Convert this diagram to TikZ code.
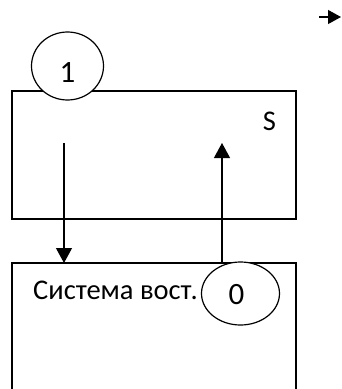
\documentclass[tikz,border=0pt]{standalone}
\usepackage{fontspec}
\setmainfont{Carlito}
\usepackage{tikz}
\usetikzlibrary{shapes.geometric,arrows.meta}

\begin{document}
\begin{tikzpicture}[x=1pt,y=-1pt,
    box/.style={draw,line width=1.6pt,inner sep=0pt,outer sep=0pt,minimum width=284pt},
    state/.style={draw,fill=white,ellipse,line width=1.2pt,inner sep=0pt,outer sep=0pt},
    flow/.style={line width=1.2pt,-{Triangle[length=15pt,width=16pt]}},
    txt/.style={inner sep=0pt,font=\fontsize{28.5}{34}\selectfont},
    digit/.style={inner sep=0pt,font=\fontsize{31}{36}\selectfont}]
  \useasboundingbox (0,0) rectangle (341,389);
  \clip (0,0) rectangle (341,389);
  % two blocks, the lower one runs off the page
  \node[box,minimum height=128pt] (sbox) at (154,155) {};
  \node[box,minimum height=160pt] (recbox) at (154,343) {};
  % connectors between the blocks
  \coordinate (down) at (64,143);
  \coordinate (up) at (222,143);
  \draw[flow] (down) -- (down |- recbox.north);
  \draw[flow] (up |- recbox.north) -- (up);
  % short arrow top right
  \coordinate (ftail) at (319,17);
  \coordinate (fhead) at (341,17);
  \draw[line width=1.2pt,-{Triangle[length=13pt,width=14pt]}] (ftail) -- (fhead);
  % states
  \node[state,minimum width=72pt,minimum height=68pt] (c1) at (67.5,66) {};
  \node[state,minimum width=78pt,minimum height=63pt] (c0) at (240.5,293.5) {};
  \node[digit] (one) at (67.5,73) {1};
  \node[digit] (zero) at (236.5,295) {0};
  \node[txt] (slabel) at (269.5,121.5) {S};
  \node[txt,anchor=base west] (sys) at (33,299) {Система вост.};
\end{tikzpicture}
\end{document}
